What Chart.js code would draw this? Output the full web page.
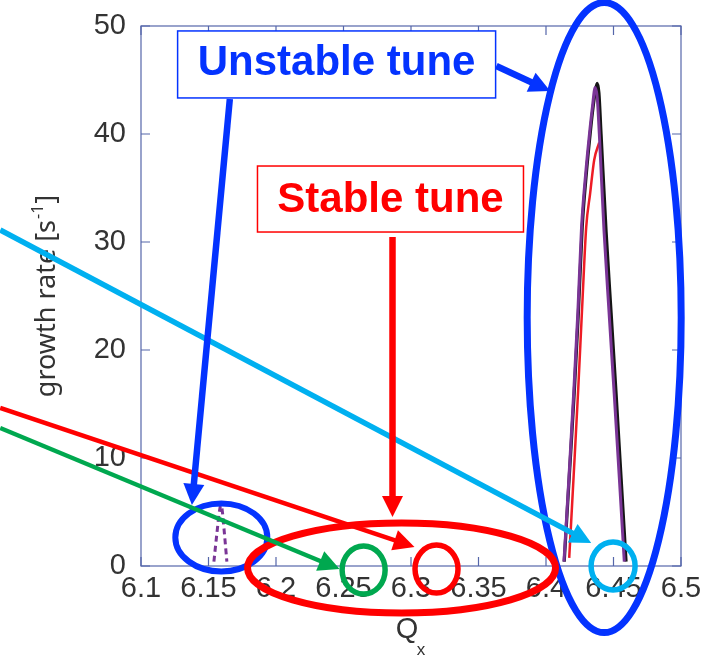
<!DOCTYPE html>
<html>
<head>
<meta charset="utf-8">
<script src="https://cdn.jsdelivr.net/npm/chart.js@4.4.0/dist/chart.umd.min.js"></script>
<style>
  html, body { margin: 0; padding: 0; background: #ffffff; }
  canvas { display: block; }
</style>
</head>
<body>
<canvas id="chart" width="703" height="657"></canvas>
<script>
// Growth rate of the instability versus horizontal tune Qx

// Axis ticks
const qTickValues = [6.1, 6.15, 6.2, 6.25, 6.3, 6.35, 6.4, 6.45, 6.5];
const qTickLabels = ['6.1', '6.15', '6.2', '6.25', '6.3', '6.35', '6.4', '6.45', '6.5'];
const rateTickValues = [0, 10, 20, 30, 40, 50];
const rateTickLabels = ['0', '10', '20', '30', '40', '50'];

// Black curve
const blackQ    = [6.4135, 6.4172, 6.4209, 6.4240, 6.4268, 6.4300, 6.4327, 6.4350, 6.4366, 6.4379, 6.4392, 6.4408, 6.4445, 6.4482, 6.4519, 6.4556, 6.4593];
const blackRate = [0.4, 8.2, 16.0, 23.5, 31.3, 36.5, 40.0, 42.6, 44.0, 44.7, 43.8, 40.0, 31.0, 23.5, 16.0, 8.2, 0.4];

// Purple curve
const purpleQ    = [6.4133, 6.4170, 6.4205, 6.4236, 6.4263, 6.4295, 6.4322, 6.4344, 6.4364, 6.4380, 6.4395, 6.4430, 6.4467, 6.4505, 6.4543, 6.4580];
const purpleRate = [0.4, 8.2, 16.0, 23.5, 31.3, 36.5, 40.0, 42.5, 44.3, 43.3, 40.0, 31.0, 23.5, 16.0, 8.2, 0.4];

// Red curve
const redQ    = [6.4172, 6.4205, 6.4238, 6.4268, 6.4298, 6.4327, 6.4357, 6.4394];
const redRate = [0.75, 8.4, 16.2, 24.0, 31.4, 34.5, 37.6, 39.2];

// Purple dashed curve near Qx = 6.16
const dashedQ    = [6.1540, 6.1562, 6.1584, 6.1592, 6.1600, 6.1618, 6.1636];
const dashedRate = [0.4, 3.0, 5.3, 5.6, 5.3, 3.0, 0.4];

const BLUE = '#0433ff';
const RED = '#ff0000';
const GREEN = '#00a84f';
const CYAN = '#00b0f0';
const AXIS = '#5566aa';
const TEXT = '#333333';

const toPoints = (xs, ys) => xs.map((x, i) => ({ x: x, y: ys[i] }));

function curve(label, xs, ys, color, width, dash) {
  return {
    label: label,
    data: toPoints(xs, ys),
    borderColor: color,
    borderWidth: width,
    borderDash: dash || [],
    pointRadius: 0,
    fill: false,
    cubicInterpolationMode: 'monotone'
  };
}

// Box with inward ticks on all four sides, plus axis titles
const framePlugin = {
  id: 'frame',
  afterDatasetsDraw(chart) {
    const { ctx, chartArea: a, scales } = chart;
    ctx.save();
    ctx.strokeStyle = AXIS;
    ctx.lineWidth = 1.2;
    ctx.strokeRect(a.left, a.top, a.right - a.left, a.bottom - a.top);
    ctx.beginPath();
    const len = 9;
    qTickValues.forEach(v => {
      const x = scales.x.getPixelForValue(v);
      ctx.moveTo(x, a.bottom); ctx.lineTo(x, a.bottom - len);
      ctx.moveTo(x, a.top); ctx.lineTo(x, a.top + len);
    });
    rateTickValues.forEach(v => {
      const y = scales.y.getPixelForValue(v);
      ctx.moveTo(a.left, y); ctx.lineTo(a.left + len, y);
      ctx.moveTo(a.right, y); ctx.lineTo(a.right - len, y);
    });
    ctx.stroke();

    ctx.fillStyle = TEXT;
    ctx.textBaseline = 'alphabetic';
    // x title: Q with subscript x
    const cx = (a.left + a.right) / 2;
    ctx.font = '29px "Liberation Sans", Arial, sans-serif';
    ctx.textAlign = 'center';
    ctx.fillText('Q', cx - 4, 638);
    ctx.font = '17px "Liberation Sans", Arial, sans-serif';
    ctx.fillText('x', cx + 10, 655);

    // y title: growth rate [s^-1]
    ctx.save();
    ctx.translate(55, (a.top + a.bottom) / 2);
    ctx.rotate(-Math.PI / 2);
    const mainFont = '27px "Noto Sans", sans-serif';
    const supFont = '16px "Noto Sans", sans-serif';
    ctx.font = mainFont;
    const p1 = 'growth rate [s';
    const w1 = ctx.measureText(p1).width;
    const w3 = ctx.measureText(']').width;
    ctx.font = supFont;
    const w2 = ctx.measureText('-1').width;
    const total = w1 + w2 + w3 + 2;
    const x0 = -total / 2;
    ctx.textAlign = 'left';
    ctx.font = mainFont;
    ctx.fillText(p1, x0, 0);
    ctx.font = supFont;
    ctx.fillText('-1', x0 + w1 + 1, -12);
    ctx.font = mainFont;
    ctx.fillText(']', x0 + w1 + w2 + 2, 0);
    ctx.restore();
    ctx.restore();
  }
};

// Callouts: ellipses, arrows and labelled boxes, placed in (Qx, rate) units
const callEllipses = [
  { q: 6.4431, r: 23.0,  rx: 77,   ry: 315, w: 7,   color: BLUE },
  { q: 6.1595, r: 2.64,  rx: 46,   ry: 34,  w: 6,   color: BLUE },
  { q: 6.2930, r: -0.19, rx: 154,  ry: 45,  w: 7,   color: RED },
  { q: 6.2649, r: -0.37, rx: 21.5, ry: 24,  w: 5.5, color: GREEN },
  { q: 6.3189, r: -0.28, rx: 21.5, ry: 24,  w: 5.5, color: RED },
  { q: 6.4497, r: 0.0,   rx: 22,   ry: 24,  w: 5.5, color: CYAN }
];
const callArrows = [
  { q0: 5.9957, r0: 31.11, q1: 6.4335, r1: 2.13,  w: 5.5, color: CYAN },
  { q0: 5.9957, r0: 14.63, q1: 6.3026, r1: 1.76,  w: 4.5, color: RED },
  { q0: 5.9957, r0: 12.78, q1: 6.2471, r1: -0.28, w: 4.5, color: GREEN },
  { q0: 6.2863, r0: 30.46, q1: 6.2863, r1: 4.54,  w: 6.5, color: RED },
  { q0: 6.1658, r0: 43.24, q1: 6.1377, r1: 5.65,  w: 6.5, color: BLUE },
  { q0: 6.3632, r0: 46.30, q1: 6.4031, r1: 43.98, w: 6.5, color: BLUE }
];
const callBoxes = [
  { text: 'Unstable tune', q: 6.2449, r: 46.44, w: 318, h: 67, base: 11, color: BLUE },
  { text: 'Stable tune',   q: 6.2848, r: 33.98, w: 266, h: 66, base: 13, color: RED }
];

const calloutPlugin = {
  id: 'callouts',
  afterDraw(chart) {
    const { ctx, scales } = chart;
    const X = v => scales.x.getPixelForValue(v);
    const Y = v => scales.y.getPixelForValue(v);
    ctx.save();
    callEllipses.forEach(e => {
      ctx.beginPath();
      ctx.ellipse(X(e.q), Y(e.r), e.rx, e.ry, 0, 0, Math.PI * 2);
      ctx.lineWidth = e.w;
      ctx.strokeStyle = e.color;
      ctx.stroke();
    });
    callArrows.forEach(a => {
      const x0 = X(a.q0), y0 = Y(a.r0), x1 = X(a.q1), y1 = Y(a.r1);
      const ang = Math.atan2(y1 - y0, x1 - x0);
      const head = 21, half = 10.5;
      const bx = x1 - head * Math.cos(ang), by = y1 - head * Math.sin(ang);
      ctx.beginPath();
      ctx.moveTo(x0, y0);
      ctx.lineTo(bx + 2 * Math.cos(ang), by + 2 * Math.sin(ang));
      ctx.lineWidth = a.w;
      ctx.strokeStyle = a.color;
      ctx.lineCap = 'butt';
      ctx.stroke();
      ctx.beginPath();
      ctx.moveTo(x1, y1);
      ctx.lineTo(bx + half * Math.sin(ang), by - half * Math.cos(ang));
      ctx.lineTo(bx - half * Math.sin(ang), by + half * Math.cos(ang));
      ctx.closePath();
      ctx.fillStyle = a.color;
      ctx.fill();
    });
    callBoxes.forEach(b => {
      const cx = X(b.q), cy = Y(b.r);
      ctx.fillStyle = '#ffffff';
      ctx.fillRect(cx - b.w / 2, cy - b.h / 2, b.w, b.h);
      ctx.lineWidth = 1.5;
      ctx.strokeStyle = b.color;
      ctx.strokeRect(cx - b.w / 2, cy - b.h / 2, b.w, b.h);
      ctx.fillStyle = b.color;
      ctx.font = 'bold 42px "Liberation Sans", Arial, sans-serif';
      ctx.textAlign = 'center';
      ctx.textBaseline = 'alphabetic';
      ctx.fillText(b.text, cx, cy + b.base);
    });
    ctx.restore();
  }
};

new Chart(document.getElementById('chart'), {
  type: 'line',
  data: {
    // earlier datasets are painted on top
    datasets: [
      curve('purple', purpleQ, purpleRate, '#7a3596', 3),
      curve('red', redQ, redRate, '#ee1c25', 2.5),
      curve('black', blackQ, blackRate, '#151515', 3.2),
      curve('purple dashed', dashedQ, dashedRate, '#7a3596', 3, [6, 4])
    ]
  },
  options: {
    responsive: false,
    animation: false,
    devicePixelRatio: 1,
    layout: { padding: { top: 26, right: 22, bottom: 0, left: 0 } },
    plugins: { legend: { display: false }, tooltip: { enabled: false } },
    scales: {
      x: {
        type: 'linear',
        min: 6.1,
        max: 6.5,
        grid: { display: false },
        border: { display: false },
        afterBuildTicks: s => { s.ticks = qTickValues.map(v => ({ value: v })); },
        afterFit: s => { s.height = 91; s.paddingLeft = 0; s.paddingRight = 0; },
        ticks: {
          autoSkip: false,
          maxRotation: 0,
          padding: -2,
          color: TEXT,
          font: { family: '"Liberation Sans", Arial, sans-serif', size: 29 },
          callback: (v, i) => qTickLabels[i]
        }
      },
      y: {
        type: 'linear',
        min: 0,
        max: 50,
        grid: { display: false },
        border: { display: false },
        afterBuildTicks: s => { s.ticks = rateTickValues.map(v => ({ value: v })); },
        afterFit: s => { s.width = 141; s.paddingTop = 0; s.paddingBottom = 0; },
        ticks: {
          padding: 7,
          color: TEXT,
          font: { family: '"Liberation Sans", Arial, sans-serif', size: 29 },
          callback: (v, i) => rateTickLabels[i]
        }
      }
    }
  },
  plugins: [framePlugin, calloutPlugin]
});
</script>
</body>
</html>
